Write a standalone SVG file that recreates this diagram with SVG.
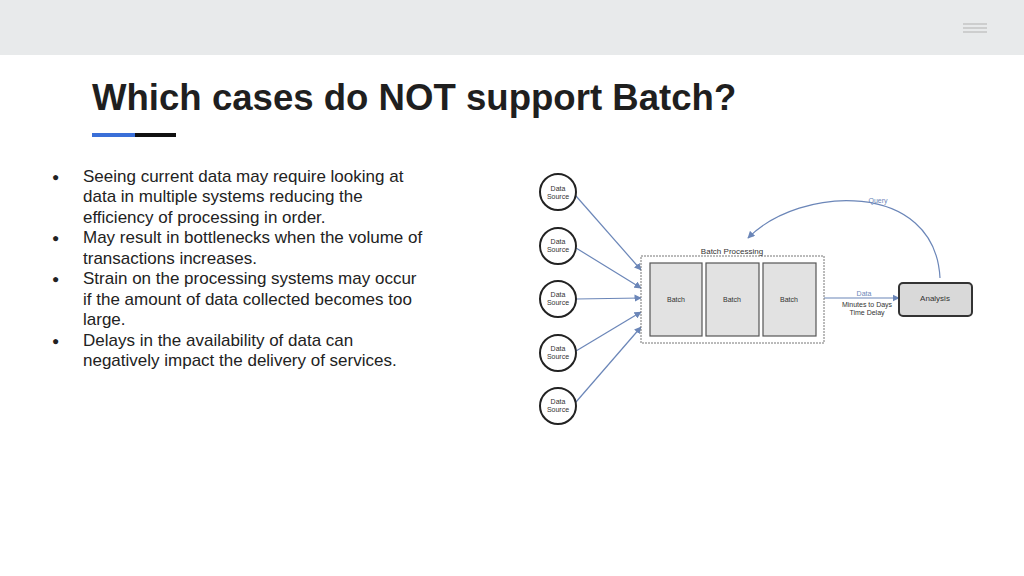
<svg xmlns="http://www.w3.org/2000/svg" width="1024" height="576" viewBox="0 0 1024 576">
<defs>
<style>
.b{font-family:"Liberation Sans",Arial,sans-serif;font-size:17px;fill:#222}
.d{font-size:12px}
.s{font-family:"Liberation Sans",Arial,sans-serif;font-size:7px;fill:#333;text-anchor:middle}
.c{fill:#fff;stroke:#222;stroke-width:2}
.bx{fill:#e2e2e2;stroke:#555;stroke-width:1.2}
.ln{stroke:#6b86b8;stroke-width:1.2;fill:none;marker-end:url(#a)}
</style>
<marker id="a" viewBox="0 0 10 10" refX="9" refY="5" markerWidth="6" markerHeight="6" orient="auto"><path d="M0,0L10,5L0,10z" fill="#6b86b8"/></marker>
</defs>
<rect width="1024" height="576" fill="#fff"/>
<rect width="1024" height="55" fill="#e8eaeb"/>
<g stroke="#c4c4c4" stroke-width="1.5"><line x1="963" y1="24" x2="987" y2="24"/><line x1="963" y1="28" x2="987" y2="28"/><line x1="963" y1="32" x2="987" y2="32"/></g>
<text x="92" y="110" font-family="Liberation Sans,Arial,sans-serif" font-size="36.6" font-weight="bold" fill="#1f1f1f">Which cases do NOT support Batch?</text>
<rect x="92" y="133" width="43" height="4" fill="#3a6fd8"/><rect x="135" y="133" width="41" height="4" fill="#111"/>
<g class="b">
<text x="52" y="181" class="d">●</text><text x="83" y="182">Seeing current data may require looking at</text>
<text x="83" y="202">data in multiple systems reducing the</text>
<text x="83" y="223">efficiency of processing in order.</text>
<text x="52" y="242" class="d">●</text><text x="83" y="243">May result in bottlenecks when the volume of</text>
<text x="83" y="264">transactions increases.</text>
<text x="52" y="283" class="d">●</text><text x="83" y="284">Strain on the processing systems may occur</text>
<text x="83" y="305">if the amount of data collected becomes too</text>
<text x="83" y="325">large.</text>
<text x="52" y="345" class="d">●</text><text x="83" y="346">Delays in the availability of data can</text>
<text x="83" y="366">negatively impact the delivery of services.</text>
</g>
<g id="connectors">
<line class="ln" x1="576" y1="196" x2="641" y2="270"/>
<line class="ln" x1="576" y1="248" x2="641" y2="288"/>
<line class="ln" x1="576" y1="299" x2="641" y2="298"/>
<line class="ln" x1="576" y1="351" x2="641" y2="312"/>
<line class="ln" x1="576" y1="402" x2="641" y2="327"/>
<line class="ln" x1="824" y1="298" x2="899" y2="298"/>
<path class="ln" d="M940,278 C935,180 800,185 748,238"/>
<text x="878" y="203" class="s" style="fill:#6b86b8">Query</text>
<text x="864" y="296" class="s" style="fill:#6b86b8">Data</text>
<text x="867" y="307" class="s">Minutes to Days</text>
<text x="867" y="315" class="s">Time Delay</text>
</g>
<g id="sources">
<g id="s1"><circle class="c" cx="558" cy="192" r="18"/><text class="s" x="558" y="191">Data</text><text class="s" x="558" y="199">Source</text></g>
<g id="s2"><circle class="c" cx="558" cy="246" r="18"/><text class="s" x="558" y="244">Data</text><text class="s" x="558" y="252">Source</text></g>
<g id="s3"><circle class="c" cx="558" cy="299" r="18"/><text class="s" x="558" y="297">Data</text><text class="s" x="558" y="305">Source</text></g>
<g id="s4"><circle class="c" cx="558" cy="353" r="18"/><text class="s" x="558" y="351">Data</text><text class="s" x="558" y="359">Source</text></g>
<g id="s5"><circle class="c" cx="558" cy="406" r="18"/><text class="s" x="558" y="404">Data</text><text class="s" x="558" y="412">Source</text></g>
</g>
<g id="batchproc">
<rect x="641" y="256" width="183" height="87" fill="#fff" stroke="#777" stroke-dasharray="2,1"/>
<text class="s" x="732" y="254" style="font-size:8px">Batch Processing</text>
<rect class="bx" x="650" y="263" width="52" height="73"/><text class="s" x="676" y="302">Batch</text>
<rect class="bx" x="706" y="263" width="53" height="73"/><text class="s" x="732" y="302">Batch</text>
<rect class="bx" x="763" y="263" width="53" height="73"/><text class="s" x="789" y="302">Batch</text>
</g>
<g id="analysis"><rect x="899" y="283" width="73" height="33" rx="4" fill="#d9d9d9" stroke="#333" stroke-width="2"/><text class="s" x="935" y="301" style="font-size:8px">Analysis</text></g>
</svg>
